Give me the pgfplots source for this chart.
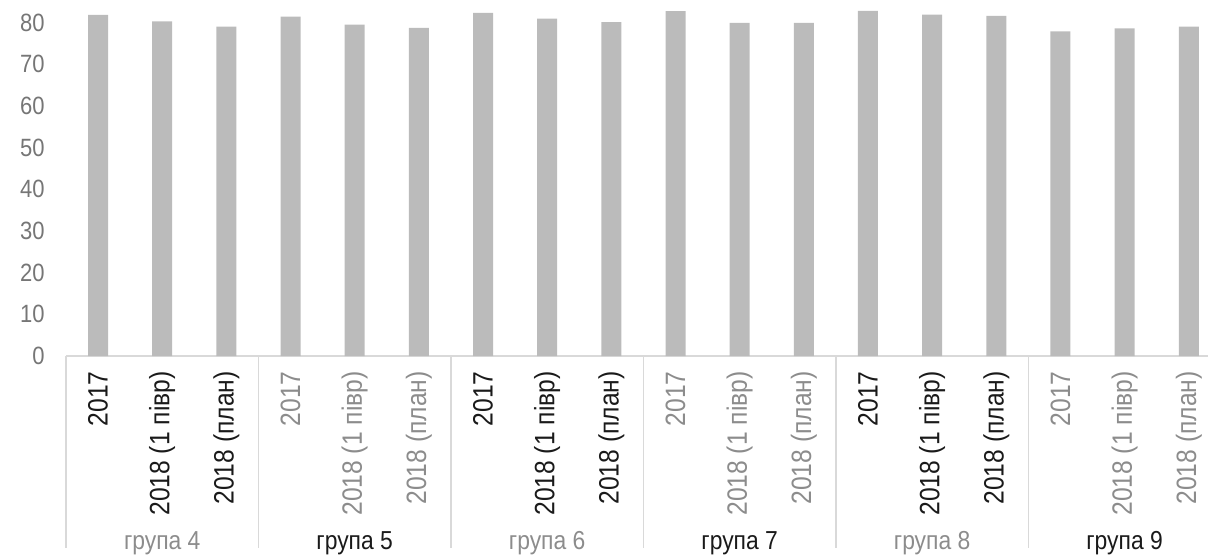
\documentclass[border=0pt]{standalone}
\usepackage{fontspec}
\setmainfont{Liberation Sans}[FakeStretch=0.88]
\usepackage{pgfplots}
\pgfplotsset{compat=1.18}
\definecolor{barc}{HTML}{BBBBBB}
\definecolor{sepc}{HTML}{D9D9D9}
\definecolor{ytc}{HTML}{767676}
\definecolor{gtc}{HTML}{8C8C8C}
\definecolor{btc}{HTML}{1A1A1A}
\newcommand{\B}[1]{\textcolor{btc}{#1}}
\newcommand{\G}[1]{\textcolor{gtc}{#1}}
\begin{document}
\begin{tikzpicture}
\begin{axis}[
  scale only axis, width=571pt, height=178pt,
  xmin=-0.5, xmax=17.3, ymin=0, ymax=85.4,
  axis x line*=bottom, axis y line*=left,
  separate axis lines,
  x axis line style={draw=sepc, line width=0.8pt, -},
  y axis line style={draw=none, -},
  major tick length=0pt,
  ytick={0,10,...,80},
  /pgf/number format/assume math mode=true,
  yticklabel style={text=ytc, font=\fontsize{12.5}{13}\selectfont, inner sep=0pt, xshift=-10.5pt},
  xtick={0,...,17},
  xticklabels={
    \B{2017},\B{2018 (1 півр)},\B{2018 (план)},
    \G{2017},\G{2018 (1 півр)},\G{2018 (план)},
    \B{2017},\B{2018 (1 півр)},\B{2018 (план)},
    \G{2017},\G{2018 (1 півр)},\G{2018 (план)},
    \B{2017},\B{2018 (1 півр)},\B{2018 (план)},
    \G{2017},\G{2018 (1 півр)},\G{2018 (план)}},
  xticklabel style={yshift=-7.5pt, rotate=90, anchor=east, inner sep=0pt, font=\fontsize{14}{15}\selectfont},
  ybar, bar width=10pt,
  clip=false,
]
\addplot[fill=barc, draw=none] coordinates {
  (0,81.8) (1,80.3) (2,79.0)
  (3,81.4) (4,79.5) (5,78.7)
  (6,82.3) (7,80.9) (8,80.1)
  (9,82.7) (10,79.9) (11,79.9)
  (12,82.8) (13,81.9) (14,81.6)
  (15,77.9) (16,78.6) (17,79.0)
};
\pgfplotsinvokeforeach{-0.5,2.5,5.5,8.5,11.5,14.5}{
  \draw[sepc, line width=0.8pt] (axis cs:#1,0) -- ++(0pt,-96pt);
}
\path[font=\fontsize{13}{14}\selectfont]
  (axis cs:1,0) ++(0pt,-93.5pt) node {\G{група 4}}
  (axis cs:4,0) ++(0pt,-93.5pt) node {\B{група 5}}
  (axis cs:7,0) ++(0pt,-93.5pt) node {\G{група 6}}
  (axis cs:10,0) ++(0pt,-93.5pt) node {\B{група 7}}
  (axis cs:13,0) ++(0pt,-93.5pt) node {\G{група 8}}
  (axis cs:16,0) ++(0pt,-93.5pt) node {\B{група 9}};
\end{axis}
\pgfresetboundingbox
\useasboundingbox (-33pt,-100.5pt) rectangle (571pt,178pt);
\end{tikzpicture}
\end{document}
